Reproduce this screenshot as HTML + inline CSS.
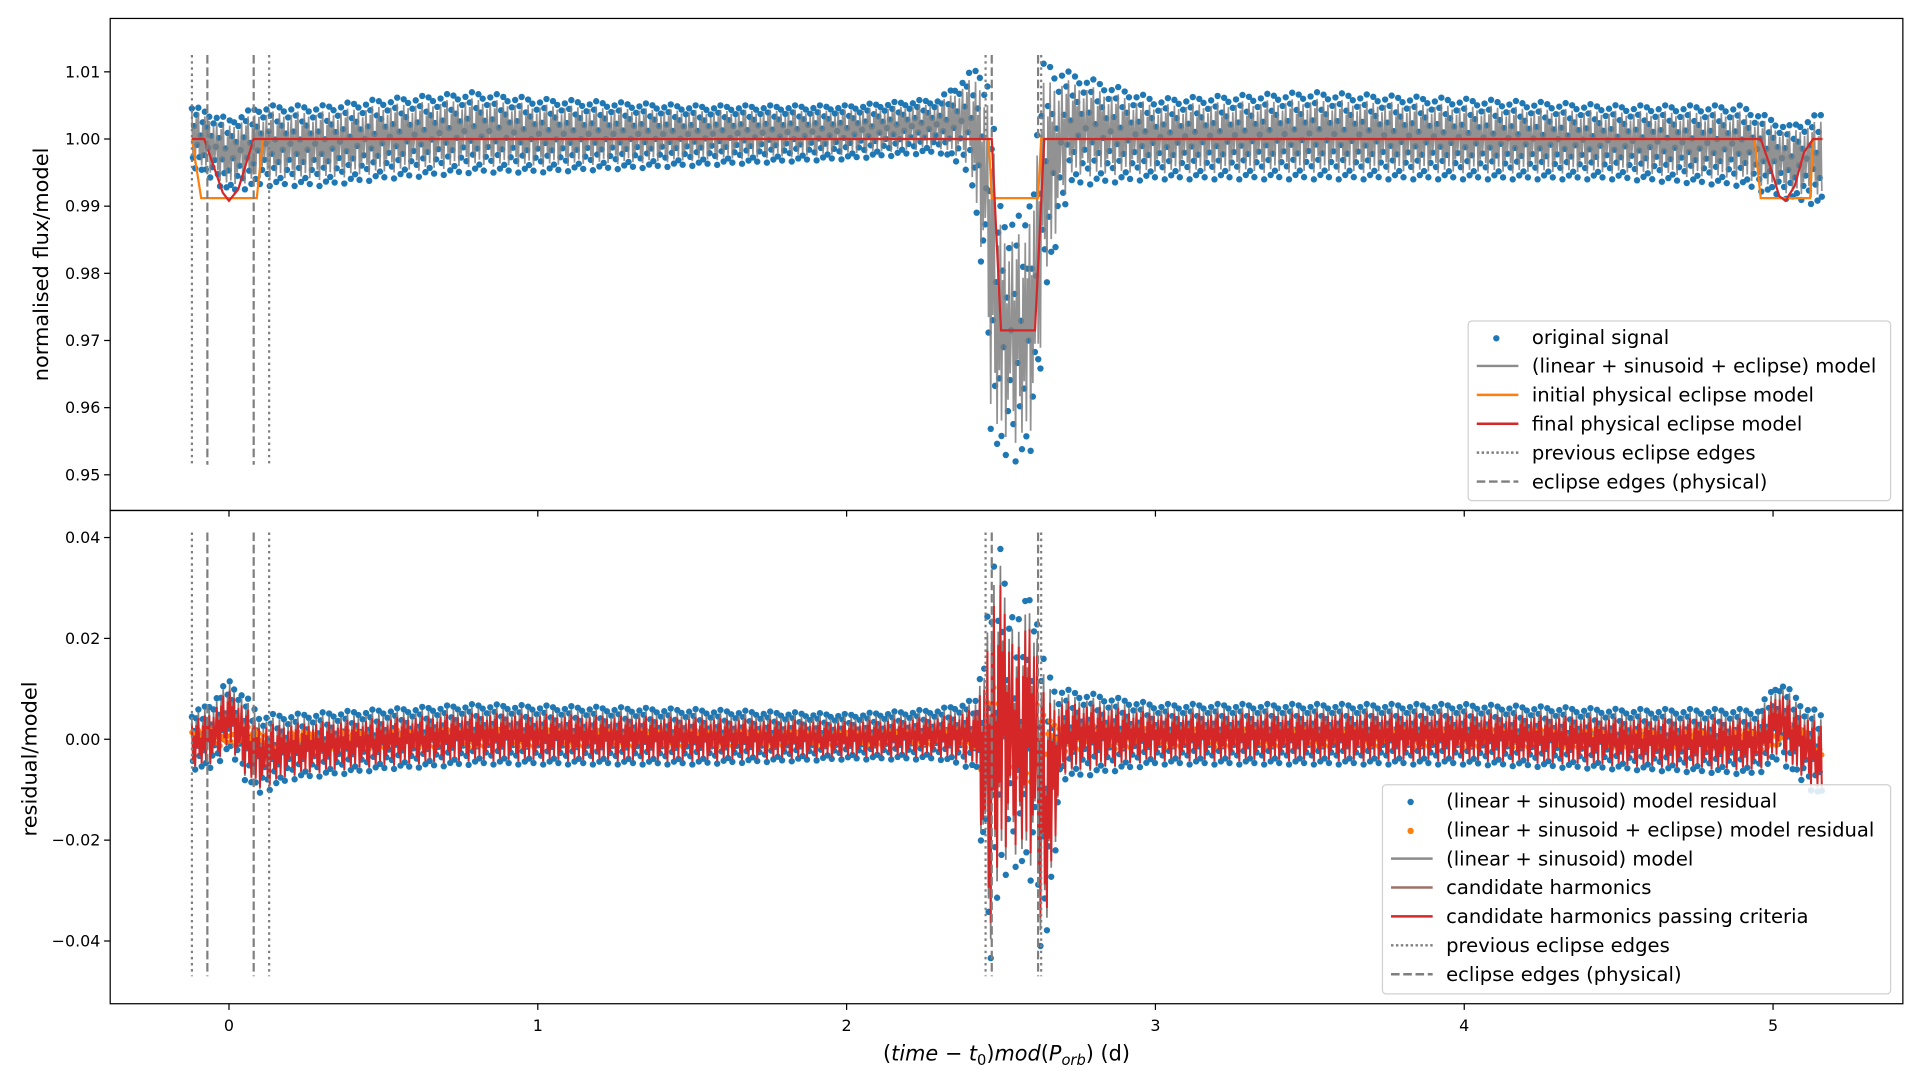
<!DOCTYPE html>
<html><head><meta charset="utf-8"><style>
html,body{margin:0;padding:0;background:#fff;}
svg{display:block;font-family:"DejaVu Sans","Liberation Sans",sans-serif;}
</style></head><body>
<svg id="chart" width="1920" height="1080" viewBox="0 0 1568 878" preserveAspectRatio="none" xmlns="http://www.w3.org/2000/svg">
<rect x="0" y="0" width="1568" height="878" fill="#fff"/>
<g id="topPanel"></g>
<g id="botPanel"></g>
<g id="frames"></g>
<g id="legends"></g>
</svg>
<script>
// ---- data ----
const xTicks = [0,1,2,3,4,5];
const topYTicks = [1.01,1.00,0.99,0.98,0.97,0.96,0.95];
const botYTicks = [0.04,0.02,0.00,-0.02,-0.04];
// envelope of original signal (top)
const topNodeX = [-0.12,0,0.1,0.3,0.5,0.8,1.0,1.5,2.0,2.3,2.4,2.45,2.47,2.5,2.58,2.61,2.64,2.72,3.0,3.5,4.0,4.5,4.9,5.05,5.16];
const topUpper = [1.005,1.003,1.005,1.005,1.006,1.007,1.006,1.005,1.005,1.006,1.010,1.012,1.005,0.990,0.988,1.000,1.012,1.010,1.006,1.007,1.006,1.005,1.005,1.002,1.004];
const topLower = [0.996,0.992,0.993,0.993,0.994,0.995,0.995,0.996,0.997,0.998,0.995,0.975,0.953,0.952,0.952,0.953,0.975,0.993,0.994,0.994,0.994,0.994,0.993,0.991,0.990];
// envelope of residuals (bottom)
const botNodeX = [-0.12,-0.05,0,0.05,0.1,0.2,0.5,0.8,1.5,2.0,2.3,2.42,2.46,2.5,2.55,2.6,2.64,2.7,3.0,3.5,4.0,4.5,4.95,5.02,5.1,5.16];
const botUpper = [0.005,0.008,0.012,0.009,0.005,0.005,0.006,0.007,0.006,0.005,0.006,0.008,0.030,0.040,0.022,0.034,0.015,0.010,0.007,0.007,0.007,0.006,0.006,0.012,0.007,0.005];
const botLower = [-0.006,-0.006,-0.002,-0.008,-0.011,-0.008,-0.006,-0.005,-0.005,-0.004,-0.004,-0.006,-0.046,-0.030,-0.025,-0.030,-0.046,-0.008,-0.005,-0.005,-0.005,-0.006,-0.007,-0.004,-0.009,-0.012];
const oscPattern = [0.9,-0.7,0.35,-1,0.75,-0.2,1,-0.55,0.15,-0.9,0.6,-0.4,0.95,-0.8,0.5,-0.1,0.85,-0.95,0.3,-0.6,0.7,-0.35,0.05];
const sampleStart = -0.12, sampleEnd = 5.16, sampleStep = 0.0035;
// eclipse models
const initX = [-0.12,-0.09,0.09,0.11,2.46,2.47,2.62,2.63,4.94,4.96,5.12,5.13,5.16];
const initY = [1.0,0.9912,0.9912,1.0,1.0,0.9912,0.9912,1.0,1.0,0.9912,0.9912,1.0,1.0];
const finalX = [-0.12,-0.08,-0.05,-0.02,0,0.03,0.06,0.08,0.12,2.47,2.5,2.61,2.64,4.96,4.99,5.02,5.04,5.07,5.1,5.13,5.16];
const finalY = [1.0,1.0,0.996,0.992,0.9908,0.9925,0.997,1.0,1.0,1.0,0.9715,0.9715,1.0,1.0,0.996,0.9915,0.9908,0.993,0.998,1.0,1.0];
const dottedEdges = [-0.12,0.13,2.45,2.63];
const dashedEdges = [-0.07,0.08,2.47,2.62];

// ---- axes ----
const L=90,R=1554, T1=15,B1=415, T2=415,B2=816;
const X = v => 187 + (v-0)*252.2;
const Y1 = v => 113 + (1.0-v)*5460;
const Y2 = v => 601 - v*4100;
const NS="http://www.w3.org/2000/svg";
function el(tag, attrs, parent){const e=document.createElementNS(NS,tag);for(const k in attrs)e.setAttribute(k,attrs[k]);parent.appendChild(e);return e;}
function interp(nx, arr, x){
  if(x<=nx[0])return arr[0];
  for(let i=1;i<nx.length;i++){ if(x<=nx[i]){const t=(x-nx[i-1])/(nx[i]-nx[i-1]);return arr[i-1]+t*(arr[i]-arr[i-1]);} }
  return arr[arr.length-1];
}
function series(nx,up,lo,amp){
  const out=[];let k=0;
  for(let x=sampleStart;x<=sampleEnd+1e-9;x+=sampleStep,k++){
    const u=interp(nx,up,x), l=interp(nx,lo,x), m=(u+l)/2, h=(u-l)/2;
    out.push([x, m + oscPattern[k%oscPattern.length]*h*amp]);
  }
  return out;
}
const topG=document.getElementById('topPanel'), botG=document.getElementById('botPanel');
const defs=el('defs',{},document.getElementById('chart'));
const c1=el('clipPath',{id:'c1'},defs); el('rect',{x:L,y:T1,width:R-L,height:B1-T1},c1);
const c2=el('clipPath',{id:'c2'},defs); el('rect',{x:L,y:T2,width:R-L,height:B2-T2},c2);
topG.setAttribute('clip-path','url(#c1)'); botG.setAttribute('clip-path','url(#c2)');

// top panel
const topPts = series(topNodeX,topUpper,topLower,1);
const gDots=el('g',{fill:'#1f77b4'},topG);


topPts.forEach(p=>el('circle',{cx:X(p[0]).toFixed(1),cy:Y1(p[1]).toFixed(1),r:2.6},gDots));
const topModel = series(topNodeX,topUpper,topLower,0.85);
const pm=el('polyline',{points:topModel.map(p=>X(p[0]).toFixed(1)+','+Y1(p[1]).toFixed(1)).join(' '),fill:'none',stroke:'#7f7f7f','stroke-width':1.4,'stroke-opacity':0.85},topG);


const pi=el('polyline',{points:initX.map((x,i)=>X(x)+','+Y1(initY[i])).join(' '),fill:'none',stroke:'#ff7f0e','stroke-width':1.8},topG);


const pf=el('polyline',{points:finalX.map((x,i)=>X(x)+','+Y1(finalY[i])).join(' '),fill:'none',stroke:'#d62728','stroke-width':1.8},topG);


function vlines(g, Yf, y0, y1, y0b, y1b){
  dottedEdges.forEach((x,i)=>{const a=i<2?[y0,y1]:[y0b,y1b];const l=el('line',{x1:X(x),x2:X(x),y1:Yf(a[0]),y2:Yf(a[1]),stroke:'#7f7f7f','stroke-width':1.8,'stroke-dasharray':'2,3'},g);});
  dashedEdges.forEach((x,i)=>{const a=i<2?[y0,y1]:[y0b,y1b];const l=el('line',{x1:X(x),x2:X(x),y1:Yf(a[0]),y2:Yf(a[1]),stroke:'#7f7f7f','stroke-width':1.8,'stroke-dasharray':'7,3'},g);});
}
vlines(topG,Y1,1.0125,0.9515,1.0125,1.0);

// bottom panel
const botPts = series(botNodeX,botUpper,botLower,1);
const bDots=el('g',{fill:'#1f77b4'},botG);


botPts.forEach(p=>el('circle',{cx:X(p[0]).toFixed(1),cy:Y2(p[1]).toFixed(1),r:2.6},bDots));
const botModel = series(botNodeX,botUpper,botLower,0.9);
const bm=el('polyline',{points:botModel.map(p=>X(p[0]).toFixed(1)+','+Y2(p[1]).toFixed(1)).join(' '),fill:'none',stroke:'#7f7f7f','stroke-width':1.4},botG);


const oDots=el('g',{fill:'#ff7f0e'},botG);


botPts.forEach((p,i)=>{ if(i%2===0) el('circle',{cx:X(p[0]).toFixed(1),cy:Y2(p[1]*0.3).toFixed(1),r:2.2},oDots); });
const botRed = series(botNodeX,botUpper,botLower,0.8);
const br=el('polyline',{points:botRed.map(p=>X(p[0]).toFixed(1)+','+Y2(p[1]-0.0005).toFixed(1)).join(' '),fill:'none',stroke:'#d62728','stroke-width':1.6},botG);


vlines(botG,Y2,0.041,-0.047,0.041,-0.047);

// frames & ticks
const fr=document.getElementById('frames');
el('rect',{x:L,y:T1,width:R-L,height:B1-T1,fill:'none',stroke:'#000','stroke-width':1},fr);
el('rect',{x:L,y:T2,width:R-L,height:B2-T2,fill:'none',stroke:'#000','stroke-width':1},fr);
xTicks.forEach(v=>{
  el('line',{x1:X(v),x2:X(v),y1:B2,y2:B2+5,stroke:'#000'},fr);
  el('line',{x1:X(v),x2:X(v),y1:B1,y2:B1+5,stroke:'#000'},fr);
  const t=el('text',{x:X(v),y:B2+22,'font-size':13,'text-anchor':'middle'},fr);t.textContent=v;
  
  
});
topYTicks.forEach(v=>{
  el('line',{x1:L-5,x2:L,y1:Y1(v),y2:Y1(v),stroke:'#000'},fr);
  const t=el('text',{x:L-8,y:Y1(v)+4.5,'font-size':13,'text-anchor':'end'},fr);t.textContent=v.toFixed(2);
  
  
});
botYTicks.forEach(v=>{
  el('line',{x1:L-5,x2:L,y1:Y2(v),y2:Y2(v),stroke:'#000'},fr);
  const t=el('text',{x:L-8,y:Y2(v)+4.5,'font-size':13,'text-anchor':'end'},fr);t.textContent=(v<0?'\u2212'+Math.abs(v).toFixed(2):v.toFixed(2));
  
  
});
</script>
<script>
const fr2=document.getElementById('frames');
function txt(s,attrs,name){const t=document.createElementNS("http://www.w3.org/2000/svg",'text');for(const k in attrs)t.setAttribute(k,attrs[k]);t.textContent=s;fr2.appendChild(t);return t;}
txt('normalised flux/model',{x:0,y:0,'font-size':17,'text-anchor':'middle',transform:'translate(39,215) rotate(-90)'},'top-y-axis-title');
txt('residual/model',{x:0,y:0,'font-size':17,'text-anchor':'middle',transform:'translate(30,617) rotate(-90)'},'bottom-y-axis-title');
const xt=txt('',{x:822,y:862,'font-size':17,'text-anchor':'middle'},'x-axis-title');
xt.innerHTML='(<tspan font-style="italic">time</tspan> \u2212 <tspan font-style="italic">t</tspan><tspan font-size="12" dy="4">0</tspan><tspan dy="-4">)</tspan><tspan font-style="italic">mod</tspan>(<tspan font-style="italic">P</tspan><tspan font-size="12" font-style="italic" dy="4">orb</tspan><tspan dy="-4">) (d)</tspan>';

const lg=document.getElementById('legends');
function legend(x,y,w,h,items,name){
  const g=document.createElementNS("http://www.w3.org/2000/svg",'g');lg.appendChild(g);
  
  
  g.innerHTML=`<rect x="${x}" y="${y}" width="${w}" height="${h}" rx="3" fill="#fff" fill-opacity="0.85" stroke="#d0d0d0"/>`;
  items.forEach((it,i)=>{
    const cy=y+13+i*23.5;
    let m='';
    if(it.t==='dot') m=`<circle cx="${x+23}" cy="${cy+1}" r="2.6" fill="${it.c}"/>`;
    else m=`<line x1="${x+7}" x2="${x+41}" y1="${cy}" y2="${cy}" stroke="${it.c}" stroke-width="2" ${it.d?'stroke-dasharray="'+it.d+'"':''}/>`;
    g.innerHTML+=m+`<text x="${x+52}" y="${cy+5.5}" font-size="16">${it.s}</text>`;
  });
}
legend(1199,261,345,146,[
 {t:'dot',c:'#1f77b4',s:'original signal'},
 {t:'line',c:'#8c8c8c',s:'(linear + sinusoid + eclipse) model'},
 {t:'line',c:'#ff7f0e',s:'initial physical eclipse model'},
 {t:'line',c:'#d62728',s:'final physical eclipse model'},
 {t:'line',c:'#7f7f7f',d:'2,2',s:'previous eclipse edges'},
 {t:'line',c:'#7f7f7f',d:'7,3',s:'eclipse edges (physical)'}
],'top-legend');
legend(1129,638,415,170,[
 {t:'dot',c:'#1f77b4',s:'(linear + sinusoid) model residual'},
 {t:'dot',c:'#ff7f0e',s:'(linear + sinusoid + eclipse) model residual'},
 {t:'line',c:'#8c8c8c',s:'(linear + sinusoid) model'},
 {t:'line',c:'#a07068',s:'candidate harmonics'},
 {t:'line',c:'#d62728',s:'candidate harmonics passing criteria'},
 {t:'line',c:'#7f7f7f',d:'2,2',s:'previous eclipse edges'},
 {t:'line',c:'#7f7f7f',d:'7,3',s:'eclipse edges (physical)'}
],'bottom-legend');
</script>
</body></html>
